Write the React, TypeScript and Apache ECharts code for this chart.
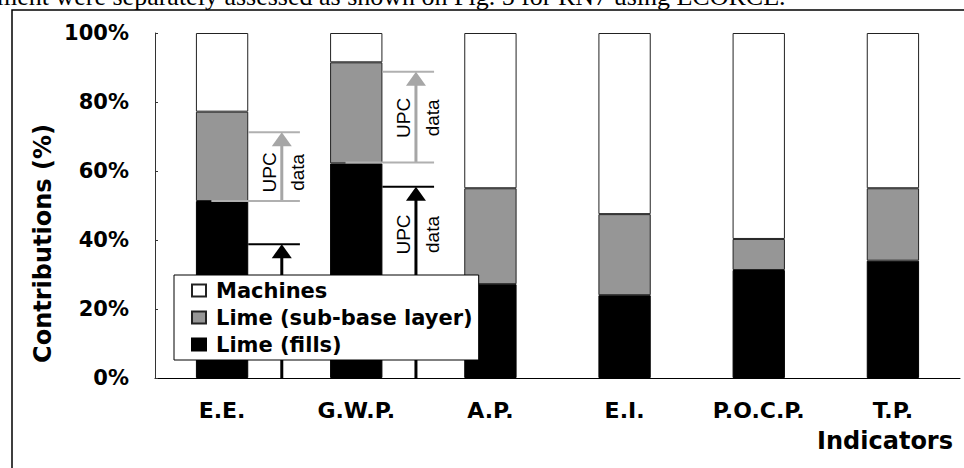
import React, { useEffect, useRef } from "react";
import * as echarts from "echarts";

const categories = ["E.E.", "G.W.P.", "A.P.", "E.I.", "P.O.C.P.", "T.P."];
const limeFills = [51.3, 62.2, 27.2, 24.0, 31.3, 34.0];
const limeSubBase = [25.9, 29.3, 27.8, 23.5, 9.0, 21.0];
const machines = [22.8, 8.5, 45.0, 52.5, 59.7, 45.0];

const seriesNames = ["Machines", "Lime (sub-base layer)", "Lime (fills)"];

// UPC data annotations: category index, low %, high %, tone (0 gray, 1 black), label level %
const upcCategory = [0, 0, 1, 1];
const upcLow = [51.3, 0, 62.5, 0];
const upcHigh = [71.2, 38.8, 88.8, 55.4];
const upcTone = [0, 1, 0, 1];
const upcLabelAt = [59.6, 19.4, 75.4, 41.6];

const topText = "ment were separately assessed as shown on Fig. 5 for RN7 using ECORCE.";

const BOLD = "DejaVu Sans";

export default function App() {
  const ref = useRef<HTMLDivElement>(null);

  useEffect(() => {
    if (!ref.current) return;
    const chart = echarts.init(ref.current, undefined, { renderer: "svg" });

    const upcData = upcCategory.map((c, i) => [c, upcLow[i], upcHigh[i], upcTone[i], upcLabelAt[i]]);

    const textEl = (text: string, x: number, y: number) => ({
      type: "text",
      x,
      y,
      rotation: Math.PI / 2,
      style: {
        text,
        fontFamily: "Liberation Sans",
        fontSize: 19,
        fill: "#000",
        align: "center",
        verticalAlign: "middle",
      },
    });

    const option: any = {
      animation: false,
      grid: { left: 155, right: 4, top: 33, bottom: 90, containLabel: false },
      legend: {
        data: seriesNames,
        orient: "vertical",
        left: 174,
        top: 275,
        itemWidth: 14,
        itemHeight: 12,
        itemGap: 6,
        padding: [5, 6, 5, 17],
        backgroundColor: "#fff",
        borderColor: "#000",
        borderWidth: 1,
        borderRadius: 0,
        icon: "rect",
        selectedMode: false,
        textStyle: {
          fontFamily: BOLD,
          fontWeight: "bold",
          fontSize: 21,
          color: "#000",
          padding: [0, 0, 0, 5],
        },
      },
      xAxis: {
        type: "category",
        data: categories,
        boundaryGap: true,
        axisLine: { lineStyle: { color: "#000", width: 1 } },
        axisTick: { inside: true, length: 7, lineStyle: { color: "#000" } },
        axisLabel: {
          fontFamily: BOLD,
          fontWeight: "bold",
          fontSize: 22,
          color: "#000",
          margin: 21,
        },
        splitLine: { show: false },
      },
      yAxis: {
        type: "value",
        min: 0,
        max: 100,
        interval: 20,
        axisLine: { show: true, lineStyle: { color: "#333", width: 1 } },
        axisTick: { show: true, inside: true, length: 3, lineStyle: { color: "#333" } },
        axisLabel: {
          formatter: "{value}%",
          fontFamily: BOLD,
          fontWeight: "bold",
          fontSize: 21,
          color: "#000",
          margin: 26,
        },
        splitLine: { show: false },
      },
      series: [
        {
          name: "Lime (fills)",
          type: "bar",
          stack: "total",
          barWidth: "39%",
          data: limeFills,
          itemStyle: { color: "#000", borderColor: "#000", borderWidth: 1 },
        },
        {
          name: "Lime (sub-base layer)",
          type: "bar",
          stack: "total",
          barWidth: "39%",
          data: limeSubBase,
          itemStyle: { color: "#969696", borderColor: "#222", borderWidth: 1 },
        },
        {
          name: "Machines",
          type: "bar",
          stack: "total",
          barWidth: "39%",
          data: machines,
          itemStyle: { color: "#fff", borderColor: "#222", borderWidth: 1 },
        },
        {
          name: "UPC",
          type: "custom",
          z: 3,
          silent: true,
          data: upcData,
          renderItem: (params: any, api: any) => {
            const idx = api.value(0);
            const low = api.value(1);
            const high = api.value(2);
            const tone = api.value(3);
            const labelAt = api.value(4);
            const pLow = api.coord([idx, low]);
            const cx = pLow[0];
            const yLow = pLow[1];
            const yHigh = api.coord([idx, high])[1];
            const yLabel = api.coord([idx, labelAt])[1];
            const band = api.size([1, 0])[0];
            const x0 = cx + band * 0.195;
            const x1 = cx + band * 0.58;
            const ax = cx + band * 0.445;
            const lineColor = tone === 0 ? "#b0b0b0" : "#000";
            const arrowColor = tone === 0 ? "#a6a6a6" : "#000";
            const children: any[] = [
              {
                type: "line",
                shape: { x1: x0, y1: yHigh, x2: x1, y2: yHigh },
                style: { stroke: lineColor, lineWidth: 2 },
              },
              {
                type: "line",
                shape: { x1: ax, y1: yLow, x2: ax, y2: yHigh + 12 },
                style: { stroke: arrowColor, lineWidth: 3 },
              },
              {
                type: "polygon",
                shape: {
                  points: [
                    [ax - 10, yHigh + 14],
                    [ax + 10, yHigh + 14],
                    [ax, yHigh],
                  ],
                },
                style: { fill: arrowColor },
              },
              textEl("UPC", cx + band * 0.35, yLabel),
              textEl("data", cx + band * 0.565, yLabel),
            ];
            if (low > 0) {
              children.push({
                type: "line",
                shape: { x1: cx - band * 0.08, y1: yLow, x2: x1, y2: yLow },
                style: { stroke: lineColor, lineWidth: 2 },
              });
            }
            return { type: "group", children };
          },
        },
      ],
      graphic: [
        {
          type: "text",
          x: -3,
          y: -4,
          z: -2,
          silent: true,
          style: {
            text: topText,
            fontFamily: "Liberation Serif",
            fontSize: 26,
            fill: "#000",
            align: "left",
            verticalAlign: "middle",
          },
        },
        {
          type: "rect",
          z: -1,
          silent: true,
          shape: { x: 12, y: 10, width: 1000, height: 500 },
          style: { fill: "#fff", stroke: "#000", lineWidth: 1.5 },
        },
        {
          type: "text",
          x: 42.5,
          y: 243.5,
          rotation: Math.PI / 2,
          silent: true,
          style: {
            text: "Contributions (%)",
            fontFamily: BOLD,
            fontWeight: "bold",
            fontSize: 24,
            fill: "#000",
            align: "center",
            verticalAlign: "middle",
          },
        },
        {
          type: "text",
          x: 953,
          y: 441,
          silent: true,
          style: {
            text: "Indicators",
            fontFamily: BOLD,
            fontWeight: "bold",
            fontSize: 24,
            fill: "#000",
            align: "right",
            verticalAlign: "middle",
          },
        },
      ],
    };

    chart.setOption(option);
    return () => {
      chart.dispose();
    };
  }, []);

  return (
    <div
      ref={ref}
      style={{ position: "absolute", left: 0, top: 0, width: 964, height: 468 }}
    />
  );
}
